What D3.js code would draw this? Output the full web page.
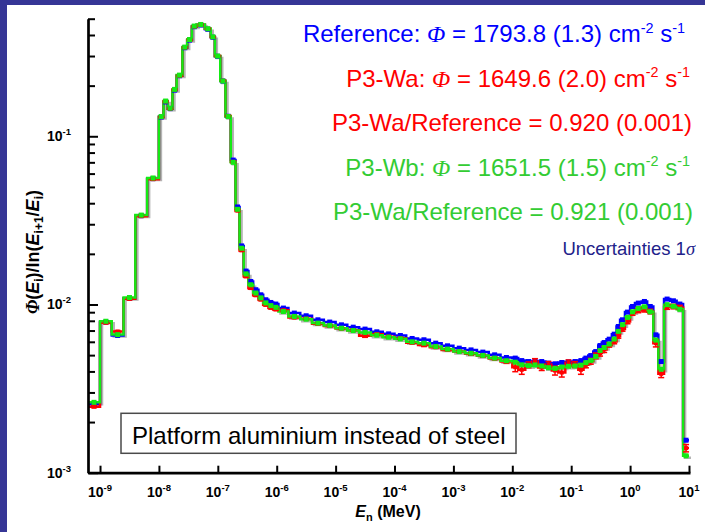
<!DOCTYPE html>
<html>
<head>
<meta charset="utf-8">
<script src="https://cdn.jsdelivr.net/npm/d3@7"></script>
<style>
body { margin: 0; background: #363696; }
svg { display: block; font-family: "Liberation Sans", Arial, sans-serif; }
</style>
</head>
<body>
<div class="chart"></div>
<script>
// energy bin edges (MeV)
var edges = [6.25e-10, 1.00e-9, 1.58e-9, 2.51e-9, 3.98e-9, 6.31e-9, 1.00e-8, 1.20e-8, 1.41e-8, 1.70e-8,
  2.00e-8, 2.51e-8, 3.02e-8, 3.63e-8, 4.37e-8, 6.03e-8, 7.59e-8, 8.91e-8, 1.10e-7, 1.35e-7,
  1.66e-7, 2.00e-7, 2.34e-7, 2.75e-7, 3.31e-7, 3.98e-7, 4.90e-7, 5.89e-7, 7.24e-7, 8.71e-7,
  1.07e-6, 1.58e-6, 2.51e-6, 3.98e-6, 6.31e-6, 1.00e-5, 1.58e-5, 2.51e-5, 3.98e-5, 6.31e-5,
  1.00e-4, 1.58e-4, 2.51e-4, 3.98e-4, 6.31e-4, 1.00e-3, 1.58e-3, 2.51e-3, 3.98e-3, 6.31e-3,
  1.00e-2, 1.26e-2, 1.66e-2, 2.14e-2, 2.75e-2, 3.63e-2, 4.68e-2, 6.03e-2, 7.94e-2, 0.102,
  0.132, 0.162, 0.195, 0.237, 0.288, 0.331, 0.398, 0.490, 0.589, 0.676,
  0.818, 1.00, 1.21, 1.57, 1.95, 2.48, 3.02, 3.77, 4.79, 6.17,
  7.94, 10.0];

// Reference spectrum
var refFlux = [2.55e-3, 7.86e-3, 6.54e-3, 0.0109, 0.0337, 0.0560, 0.130, 0.160, 0.146, 0.188,
  0.229, 0.336, 0.373, 0.448, 0.459, 0.433, 0.388, 0.299, 0.213, 0.1315,
  0.0722, 0.0380, 0.0223, 0.0158, 0.0137, 0.01224, 0.01142, 0.01067, 0.01028, 0.01006,
  0.00952, 0.00889, 0.00857, 0.00811, 0.00786, 0.00757, 0.00733, 0.00714, 0.00688, 0.00669,
  0.00654, 0.00628, 0.00617, 0.00589, 0.00568, 0.00550, 0.00537, 0.00521, 0.00502, 0.00484,
  0.00480, 0.00464, 0.00458, 0.00462, 0.00458, 0.00448, 0.00444, 0.00452, 0.00456, 0.00458,
  0.00464, 0.00480, 0.00497, 0.00525, 0.00570, 0.00594, 0.00622, 0.00666, 0.00740, 0.00811,
  0.00901, 0.00973, 0.01019, 0.01042, 0.00973, 0.00660, 0.00458, 0.01077, 0.01052, 0.01006,
  0.00156];

// P3-Wa
var waFlux = [2.47e-3, 7.80e-3, 6.90e-3, 0.0108, 0.0335, 0.0556, 0.130, 0.161, 0.146, 0.189,
  0.229, 0.337, 0.374, 0.449, 0.460, 0.435, 0.389, 0.300, 0.214, 0.132,
  0.0705, 0.0362, 0.0210, 0.0147, 0.01252, 0.01135, 0.0107, 0.00995, 0.00955, 0.00935,
  0.00923, 0.00837, 0.00823, 0.00767, 0.00744, 0.00719, 0.00704, 0.00651, 0.00666, 0.00644,
  0.00630, 0.00592, 0.00574, 0.00557, 0.00537, 0.00525, 0.00509, 0.00495, 0.00478, 0.00458,
  0.00424, 0.00409, 0.00438, 0.00458, 0.00422, 0.00440, 0.00405, 0.00394, 0.00450, 0.00440,
  0.00409, 0.00438, 0.00460, 0.00495, 0.00514, 0.00540, 0.00575, 0.00602, 0.00650, 0.00715,
  0.00792, 0.00889, 0.00921, 0.00930, 0.00909, 0.00589, 0.00387, 0.00965, 0.00973, 0.00960,
  0.00140];

// P3-Wa relative 1 sigma
var waErr = [0.015, 0.015, 0.015, 0.015, 0.015, 0.015, 0.01, 0.01, 0.01, 0.01,
  0.01, 0.01, 0.01, 0.01, 0.01, 0.01, 0.01, 0.01, 0.01, 0.01,
  0.015, 0.015, 0.015, 0.015, 0.015, 0.015, 0.015, 0.015, 0.015, 0.015,
  0.015, 0.015, 0.015, 0.015, 0.015, 0.015, 0.015, 0.02, 0.015, 0.015,
  0.015, 0.015, 0.02, 0.015, 0.015, 0.015, 0.02, 0.02, 0.02, 0.025,
  0.06, 0.06, 0.04, 0.04, 0.04, 0.04, 0.06, 0.06, 0.04, 0.04,
  0.06, 0.04, 0.04, 0.04, 0.04, 0.04, 0.03, 0.03, 0.03, 0.03,
  0.03, 0.03, 0.03, 0.03, 0.03, 0.05, 0.05, 0.03, 0.03, 0.03,
  0.05];

// P3-Wb
var wbFlux = [2.62e-3, 7.95e-3, 6.62e-3, 0.0110, 0.0340, 0.0565, 0.131, 0.162, 0.147, 0.190,
  0.231, 0.339, 0.376, 0.452, 0.462, 0.436, 0.390, 0.300, 0.213, 0.131,
  0.0700, 0.0368, 0.0216, 0.0152, 0.0131, 0.01170, 0.01095, 0.01022, 0.00985, 0.00962,
  0.00908, 0.00849, 0.00818, 0.00775, 0.00751, 0.00723, 0.00700, 0.00682, 0.00657, 0.00639,
  0.00625, 0.00600, 0.00589, 0.00563, 0.00543, 0.00525, 0.00513, 0.00498, 0.00480, 0.00463,
  0.00454, 0.00438, 0.00433, 0.00437, 0.00431, 0.00421, 0.00417, 0.00425, 0.00429, 0.00431,
  0.00436, 0.00451, 0.00465, 0.00491, 0.00533, 0.00555, 0.00582, 0.00623, 0.00692, 0.00758,
  0.00838, 0.00905, 0.00948, 0.00969, 0.00905, 0.00614, 0.00412, 0.00998, 0.00975, 0.00936,
  0.00126];

var xTickVals = [1e-9, 1e-8, 1e-7, 1e-6, 1e-5, 1e-4, 1e-3, 1e-2, 1e-1, 1, 10];
var xTickExp = ["-9", "-8", "-7", "-6", "-5", "-4", "-3", "-2", "-1", "0", "1"];
var yTickVals = [1e-3, 1e-2, 1e-1];
var yTickExp = ["-3", "-2", "-1"];

var seriesNames = ["Reference", "P3-Wa", "P3-Wb"];
var seriesFluence = ["1793.8 (1.3)", "1649.6 (2.0)", "1651.5 (1.5)"];
var ratioText = ["0.920 (0.001)", "0.921 (0.001)"];

var W = 705, H = 532;
var svg = d3.select(".chart").append("svg")
    .attr("width", W)
    .attr("height", H);

svg.append("rect").attr("width", W).attr("height", H).attr("fill", "#363696");
svg.append("rect").attr("x", 7).attr("y", 5).attr("width", W - 7).attr("height", H - 5).attr("fill", "#fff");

var x = d3.scaleLog().domain([6.25e-10, 10.4]).range([88, 690]);
var y = d3.scaleLog().domain([1e-3, 0.5]).range([472.7, 18.7]);

// note box
svg.append("rect")
    .attr("x", 121).attr("y", 413.3)
    .attr("width", 395).attr("height", 40)
    .attr("fill", "#fff").attr("stroke", "#4a4a4a").attr("stroke-width", 1.5);
svg.append("text")
    .attr("x", 132).attr("y", 443.5)
    .style("font-size", "24px")
    .attr("fill", "#000")
    .text("Platform aluminium instead of steel");

// step lines
function stepPts(vals) {
  var pts = vals.map(function (v, i) { return [edges[i], v]; });
  pts.push([edges[edges.length - 1], vals[vals.length - 1]]);
  return pts;
}
var line = d3.line()
    .x(function (d) { return x(d[0]); })
    .y(function (d) { return y(d[1]); })
    .curve(d3.curveStepAfter);

svg.append("path")
    .attr("d", line(stepPts(wbFlux)))
    .attr("transform", "translate(2,2)")
    .attr("fill", "none").attr("stroke", "#b4b4b4").attr("stroke-width", 2.5);

var series = [
  {vals: refFlux, color: "#0000ff"},
  {vals: waFlux, color: "#ff0000"},
  {vals: wbFlux, color: "#14ea14"}
];
series.forEach(function (s) {
  svg.append("path")
      .attr("d", line(stepPts(s.vals)))
      .attr("fill", "none")
      .attr("stroke", s.color)
      .attr("stroke-width", 2.5);
});

function mid(i) { return Math.sqrt(edges[i] * edges[i + 1]); }

// markers
svg.append("g").selectAll("rect")
    .data(refFlux)
    .enter().append("rect")
    .attr("x", function (d, i) { return x(mid(i)) - 2.5; })
    .attr("y", function (d) { return y(d) - 2.5; })
    .attr("width", 5).attr("height", 5)
    .attr("fill", "#0000ff");

var eb = svg.append("g").attr("stroke", "#ff0000").attr("stroke-width", 1.5);
waFlux.forEach(function (d, i) {
  var cx = x(mid(i)), y0 = y(d * (1 - waErr[i])), y1 = y(d * (1 + waErr[i]));
  eb.append("line").attr("x1", cx).attr("x2", cx).attr("y1", y0).attr("y2", y1);
  eb.append("line").attr("x1", cx - 3).attr("x2", cx + 3).attr("y1", y0).attr("y2", y0);
  eb.append("line").attr("x1", cx - 3).attr("x2", cx + 3).attr("y1", y1).attr("y2", y1);
});
svg.append("g").selectAll("rect")
    .data(waFlux)
    .enter().append("rect")
    .attr("x", function (d, i) { return x(mid(i)) - 2; })
    .attr("y", function (d) { return y(d) - 2; })
    .attr("width", 4).attr("height", 4)
    .attr("fill", "#ff0000");

svg.append("g").selectAll("rect")
    .data(wbFlux)
    .enter().append("rect")
    .attr("x", function (d, i) { return x(mid(i)) - 2.5; })
    .attr("y", function (d) { return y(d) - 2.5; })
    .attr("width", 5).attr("height", 5)
    .attr("fill", "#14ea14");

// axes
var yMinor = y.ticks().filter(function (d) {
  var l = Math.log10(d);
  return Math.abs(l - Math.round(l)) > 1e-6;
});

svg.append("g")
    .attr("transform", "translate(88,0)")
    .call(d3.axisLeft(y).tickValues(yMinor).tickSize(-7).tickSizeOuter(0).tickFormat(""))
    .call(function (g) { g.select(".domain").remove(); })
    .selectAll("line").attr("stroke", "#000").attr("stroke-width", 2);

var yAx = svg.append("g")
    .attr("transform", "translate(88,0)")
    .call(d3.axisLeft(y).tickValues(yTickVals).tickSize(-10).tickSizeOuter(0).tickFormat(""));
yAx.select(".domain").attr("stroke", "#000").attr("stroke-width", 2.7);
yAx.selectAll("line").attr("stroke", "#000").attr("stroke-width", 2);

var xAx = svg.append("g")
    .attr("transform", "translate(0,472.7)")
    .call(d3.axisBottom(x).tickValues(xTickVals).tickSize(-7).tickSizeOuter(0).tickFormat(""));
xAx.select(".domain").attr("stroke", "#000").attr("stroke-width", 2.7);
xAx.selectAll("line").attr("stroke", "#000").attr("stroke-width", 2);

// tick labels
xTickVals.forEach(function (v, i) {
  var t = svg.append("text")
      .attr("x", x(v)).attr("y", 497)
      .attr("text-anchor", "middle")
      .style("font-size", "14px").style("font-weight", "bold");
  t.append("tspan").text("10");
  t.append("tspan").attr("dy", -6).style("font-size", "9.5px").text(xTickExp[i]);
});
yTickVals.forEach(function (v, i) {
  var t = svg.append("text")
      .attr("x", 47).attr("y", y(v) + 5)
      .style("font-size", "14px").style("font-weight", "bold");
  t.append("tspan").text("10");
  t.append("tspan").attr("dy", -6).style("font-size", "9.5px").text(yTickExp[i]);
});

// axis titles
var xt = svg.append("text")
    .attr("x", 388).attr("y", 517)
    .attr("text-anchor", "middle")
    .style("font-size", "16px").style("font-weight", "bold");
xt.append("tspan").style("font-style", "italic").text("E");
xt.append("tspan").attr("dy", 4).style("font-size", "11px").text("n");
xt.append("tspan").attr("dy", -4).text(" (MeV)");

var yt = svg.append("text")
    .attr("transform", "translate(39,252) rotate(-90)")
    .attr("text-anchor", "middle")
    .style("font-size", "18px").style("font-weight", "bold");
yt.append("tspan").style("font-family", "'Liberation Serif', serif").style("font-style", "italic").text("Φ");
yt.append("tspan").text("(");
yt.append("tspan").style("font-style", "italic").text("E");
yt.append("tspan").attr("dy", 4).style("font-size", "12px").text("i");
yt.append("tspan").attr("dy", -4).text(")/ln(");
yt.append("tspan").style("font-style", "italic").text("E");
yt.append("tspan").attr("dy", 4).style("font-size", "12px").text("i+1");
yt.append("tspan").attr("dy", -4).text("/");
yt.append("tspan").style("font-style", "italic").text("E");
yt.append("tspan").attr("dy", 4).style("font-size", "12px").text("i");
yt.append("tspan").attr("dy", -4).text(")");

// legend text
function richLine(xEnd, yBase, color, size, parts) {
  var t = svg.append("text")
      .attr("x", xEnd).attr("y", yBase)
      .attr("text-anchor", "end")
      .attr("fill", color)
      .style("font-size", size + "px");
  var shift = 0;
  parts.forEach(function (p) {
    var s = t.append("tspan").text(p[0]);
    if (p[1] === "sup") {
      s.attr("dy", -size * 0.38 - shift).style("font-size", (size * 0.6) + "px");
      shift = -size * 0.38;
    } else {
      if (shift !== 0) { s.attr("dy", -shift); shift = 0; }
      if (p[1] === "sym") s.style("font-family", "'Liberation Serif', serif").style("font-style", "italic");
    }
  });
}

var fs = 24;
richLine(685, 42, "#0000ff", fs, [[seriesNames[0] + ": "], ["Φ", "sym"], [" = " + seriesFluence[0] + " cm"], ["-2", "sup"], [" s"], ["-1", "sup"]]);
richLine(690, 86.5, "#ff0000", fs, [[seriesNames[1] + ": "], ["Φ", "sym"], [" = " + seriesFluence[1] + " cm"], ["-2", "sup"], [" s"], ["-1", "sup"]]);
richLine(692, 131, "#ff0000", fs, [[seriesNames[1] + "/" + seriesNames[0] + " = " + ratioText[0]]]);
richLine(690, 175.5, "#33cc33", fs, [[seriesNames[2] + ": "], ["Φ", "sym"], [" = " + seriesFluence[2] + " cm"], ["-2", "sup"], [" s"], ["-1", "sup"]]);
richLine(693, 220, "#33cc33", fs, [[seriesNames[1] + "/" + seriesNames[0] + " = " + ratioText[1]]]);
richLine(695, 255, "#22228a", 18.5, [["Uncertainties 1"], ["σ", "sym"]]);
</script>
</body>
</html>
